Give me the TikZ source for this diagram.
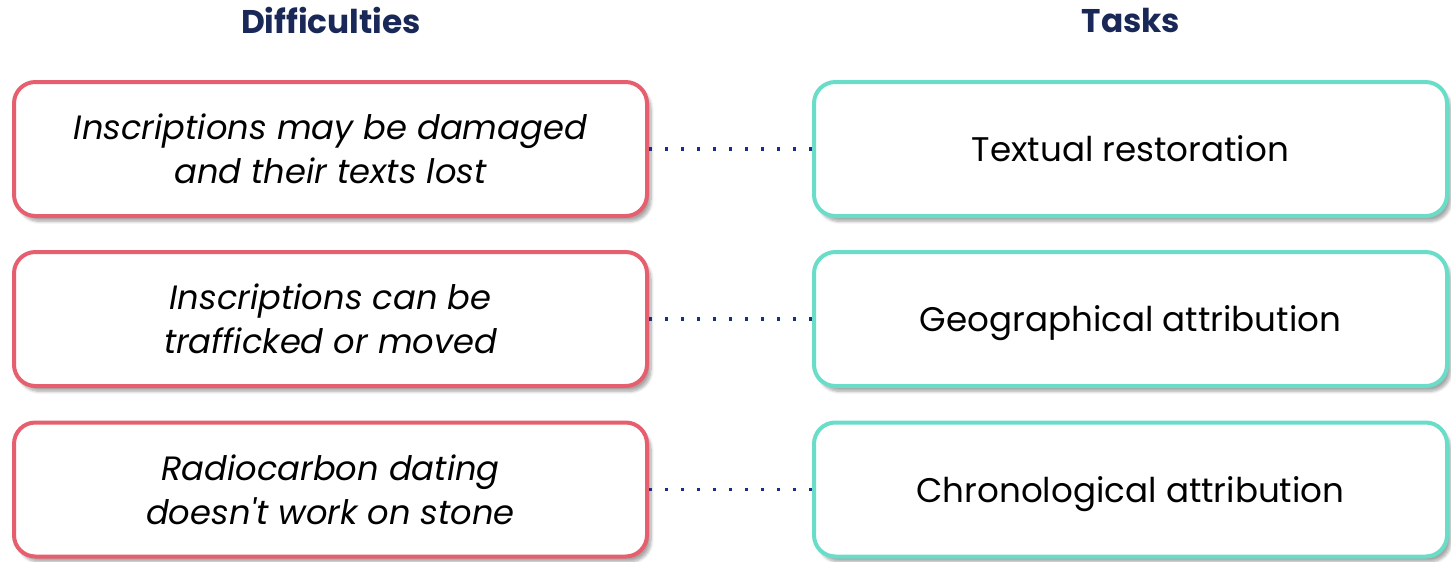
\documentclass[tikz,border=0pt]{standalone}
\usepackage{fontspec}
\setmainfont{Poppins}
\usetikzlibrary{shadows.blur}
\definecolor{diffred}{RGB}{230,95,110}
\definecolor{taskteal}{RGB}{106,221,200}
\definecolor{headnavy}{RGB}{26,40,88}
\definecolor{dotblue}{RGB}{22,48,135}
\tikzset{
  diffbox/.style={draw=diffred,line width=3pt,fill=white,rounded corners=16pt,
    minimum width=633*0.75pt,minimum height=134*0.75pt,align=center,inner sep=0pt,
    font=\fontsize{25.3}{33}\selectfont\itshape,
    blur shadow={shadow xshift=3pt,shadow yshift=-4pt,shadow blur steps=8,shadow opacity=35}},
  taskbox/.style={diffbox,draw=taskteal,font=\fontsize{25.6}{33}\selectfont,
    text height=19pt,text depth=0pt},
  heading/.style={font=\fontsize{24.6}{28}\selectfont\bfseries,text=headnavy},
  link/.style={draw=dotblue,line width=2.6pt,dash pattern=on 2.6pt off 9.4pt}
}
\begin{document}
\begin{tikzpicture}[x=0.75pt,y=0.75pt,yscale=-1,xscale=1]
            \useasboundingbox (0,0) rectangle (1451,561);
            % Text Node
            \node [heading] (hdiff) at (331,20) {Difficulties};
            % Text Node
            \node [heading] (htask) at (1131,20) {Tasks};

            %Rounded Rect [id:diff1]
            \node [diffbox] (diff1) at (330.5,149) {Inscriptions may be damaged\\and their texts lost};
            %Rounded Rect [id:diff2]
            \node [diffbox] (diff2) at (330.5,319) {Inscriptions can be\\trafficked or moved};
            %Rounded Rect [id:diff3]
            \node [diffbox] (diff3) at (330.5,489.5) {Radiocarbon dating\\doesn\textquotesingle t work on stone};

            %Rounded Rect [id:task1]
            \node [taskbox] (task1) at (1130.5,149) {Textual restoration};
            %Rounded Rect [id:task2]
            \node [taskbox] (task2) at (1130.5,319) {Geographical attribution};
            %Rounded Rect [id:task3]
            \node [taskbox] (task3) at (1130.5,489.5) {Chronological attribution};

            %Dotted Lines
            \draw [link] (diff1.east) -- (task1.west) ;
            \draw [link] (diff2.east) -- (task2.west) ;
            \draw [link] (diff3.east) -- (task3.west) ;
\end{tikzpicture}
\end{document}
